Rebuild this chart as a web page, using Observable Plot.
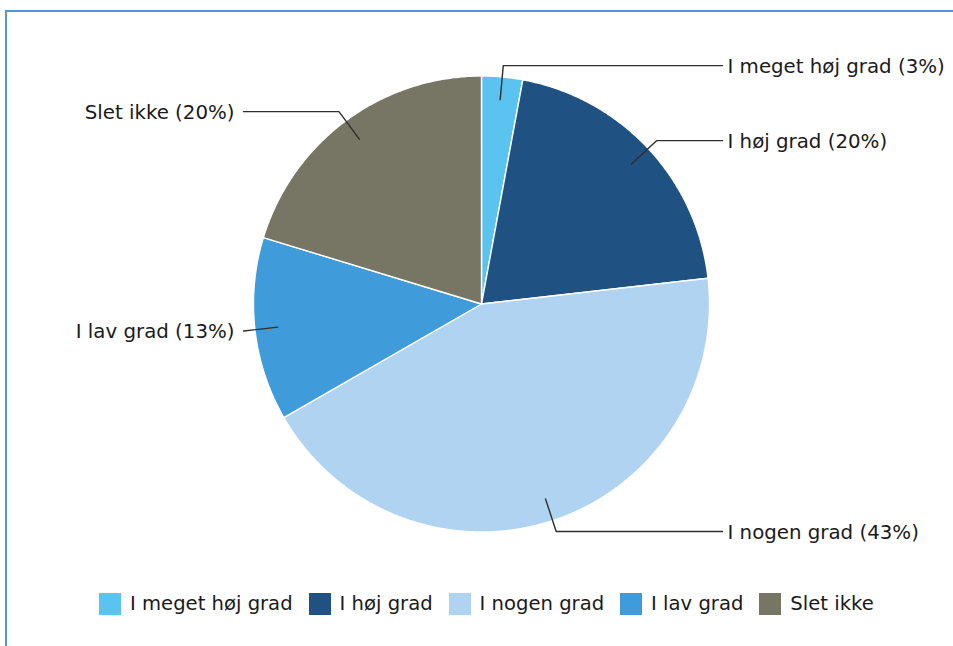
<!DOCTYPE html>
<html>
<head>
<meta charset="utf-8">
<script src="https://cdn.jsdelivr.net/npm/d3@7"></script>
<script src="https://cdn.jsdelivr.net/npm/@observablehq/plot@0.6"></script>
<style>
  html, body { margin: 0; background: #ffffff; overflow: hidden; }
  #wrap { position: relative; width: 953px; height: 646px; overflow: hidden; background: #fff;
          font-family: "DejaVu Sans", Verdana, sans-serif; }
  #frame { position: absolute; left: 5px; top: 10px; width: 1000px; height: 700px;
           border-top: 2px solid #5a93d6; border-left: 2px solid #5a93d6; pointer-events: none; }
  #chart svg { display: block; }
  .lg-swatches { font-family: "DejaVu Sans", Verdana, sans-serif; font-size: 19.6px; color: #1a1a1a;
                 margin-top: 7px; }
  .lg-swatches .lg-swatch { margin-right: 16px; }
  .lg-swatch > svg { margin-right: 9px; }
</style>
</head>
<body>
<div id="wrap">
  <div id="chart"></div>
  <div id="frame"></div>
</div>
<script>
// ---- data ----
const categories = ["I meget høj grad", "I høj grad", "I nogen grad", "I lav grad", "Slet ikke"];
const shares = [2.9, 20.3, 43.5, 13.0, 20.3];          // slice sizes (%)
const labelPercents = [3, 20, 43, 13, 20];             // percentages printed in the labels
const colors = ["#5bc3ef", "#1f5283", "#b1d3f2", "#3f9bd9", "#777664"];

// ---- layout ----
const W = 953, H = 580;
const CX = 481, CY = 303.5, R = 228;        // pie centre / radius in px
const rightEnd = 722, leftEnd = 243;         // leader line end x (px)

// build slice polygons in unit-circle coordinates (angle clockwise from 12 o'clock)
const total = d3.sum(shares);
let acc = 0;
const slices = categories.map((c, i) => {
  const a0 = acc / total * 2 * Math.PI;
  acc += shares[i];
  const a1 = acc / total * 2 * Math.PI;
  return {cat: c, a0, a1, mid: (a0 + a1) / 2, i};
});

const polyPts = [];
for (const s of slices) {
  polyPts.push({cat: s.cat, x: 0, y: 0});
  const n = Math.max(2, Math.ceil((s.a1 - s.a0) / (Math.PI / 360)));
  for (let k = 0; k <= n; k++) {
    const a = s.a0 + (s.a1 - s.a0) * k / n;
    polyPts.push({cat: s.cat, x: Math.sin(a), y: Math.cos(a)});
  }
  polyPts.push({cat: s.cat, x: 0, y: 0});
}

// leader lines and labels
const leaderPts = [];
const labels = [];
for (const s of slices) {
  const sx = Math.sin(s.mid), sy = Math.cos(s.mid);
  const right = sx >= 0;
  const ex = (right ? rightEnd - CX : leftEnd - CX) / R;
  const elbow = {x: sx * 1.05, y: sy * 1.05};
  leaderPts.push({cat: s.cat, x: sx * 0.9, y: sy * 0.9});
  leaderPts.push({cat: s.cat, x: elbow.x, y: elbow.y});
  leaderPts.push({cat: s.cat, x: ex, y: elbow.y});
  labels.push({right, x: ex, y: elbow.y, text: `${s.cat} (${labelPercents[s.i]}%)`});
}

const colorScale = {type: "ordinal", domain: categories, range: colors};

const plot = Plot.plot({
  width: W, height: H,
  marginTop: 0, marginRight: 0, marginBottom: 0, marginLeft: 0,
  x: {type: "linear", domain: [-CX / R, (W - CX) / R], range: [0, W], axis: null},
  y: {type: "linear", domain: [-(H - CY) / R, CY / R], range: [H, 0], axis: null},
  color: colorScale,
  style: {fontFamily: "DejaVu Sans, Verdana, sans-serif", background: "transparent"},
  marks: [
    Plot.line(polyPts, {x: "x", y: "y", z: "cat", fill: "cat", stroke: "#ffffff",
                        strokeWidth: 1.4, strokeLinejoin: "round", curve: "linear"}),
    Plot.line(leaderPts, {x: "x", y: "y", z: "cat", stroke: "#2e2e2e", strokeWidth: 1.4,
                          curve: "linear"}),
    Plot.text(labels.filter(d => d.right), {x: "x", y: "y", text: "text", textAnchor: "start",
                          dx: 5, dy: 1, fontSize: 19.8, fill: "#1a1a1a"}),
    Plot.text(labels.filter(d => !d.right), {x: "x", y: "y", text: "text", textAnchor: "end",
                          dx: -9, dy: 1, fontSize: 19.8, fill: "#1a1a1a"})
  ]
});

const legend = Plot.legend({
  color: colorScale,
  swatchSize: 22,
  marginLeft: 99,
  className: "lg"
});

const chart = document.getElementById("chart");
chart.appendChild(plot);
chart.appendChild(legend);
</script>
</body>
</html>
